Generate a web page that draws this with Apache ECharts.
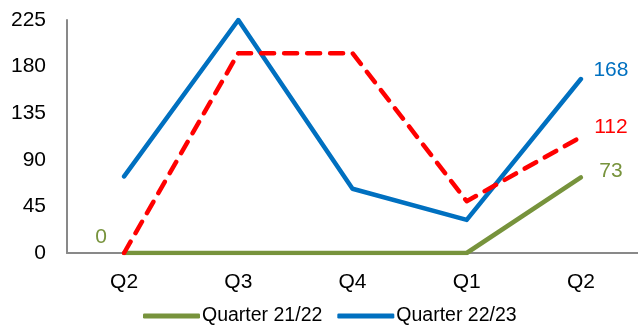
<!DOCTYPE html>
<html>
<head>
<meta charset="utf-8">
<script src="https://cdn.jsdelivr.net/npm/echarts@6/dist/echarts.min.js"></script>
<style>
html,body{margin:0;padding:0;background:#fff;}
#chart{width:638px;height:331px;}
</style>
</head>
<body>
<div id="chart"></div>
<script>
var categories = ['Q2', 'Q3', 'Q4', 'Q1', 'Q2'];
var yTicks = [0, 45, 90, 135, 180, 225];
var q2122 = [0, 0, 0, 0, 73];
var q2223 = [74, 225, 62, 32, 168];
var redLine = [0, 193, 193, 50, 112];

var font = '"Liberation Sans", Arial, sans-serif';
var green = '#77933C', blue = '#0070C0', red = '#FF0000';

// first green point gets the "0" label
var greenData = q2122.map(function (v, i) {
    if (i == 0) {
        return {
            value: v,
            label: {show: true, position: 'left', distance: 17, offset: [0, -16], color: green, fontSize: 21, fontFamily: font}
        };
    }
    return v;
});

var chart = echarts.init(document.getElementById('chart'));

var option = {
    animation: false,
    grid: {left: 67, top: 20, width: 579, bottom: 78},
    legend: {
        data: ['Quarter 21/22', 'Quarter 22/23'],
        bottom: 0,
        left: 138,
        icon: 'roundRect',
        itemWidth: 57,
        itemHeight: 5,
        itemGap: 15,
        itemStyle: {opacity: 1},
        textStyle: {fontSize: 19.5, fontFamily: font, color: '#000', padding: [0, 0, 0, -3]}
    },
    xAxis: {
        type: 'category',
        data: categories,
        boundaryGap: true,
        axisLine: {lineStyle: {color: '#898989', width: 2}},
        axisTick: {show: false},
        axisLabel: {fontSize: 21, fontFamily: font, color: '#000', margin: 19}
    },
    yAxis: {
        type: 'value',
        min: yTicks[0],
        max: yTicks[yTicks.length - 1],
        interval: 45,
        axisLine: {show: true, lineStyle: {color: '#898989', width: 2}},
        axisTick: {show: false},
        splitLine: {show: false},
        axisLabel: {fontSize: 21, fontFamily: font, color: '#000', margin: 21}
    },
    series: [
        {
            name: 'Quarter 21/22',
            type: 'line',
            data: greenData,
            symbol: 'circle',
            symbolSize: 0.1,
            itemStyle: {color: green},
            lineStyle: {color: green, width: 4.5, cap: 'round', join: 'round'},
            endLabel: {show: true, formatter: '{c}', color: green, fontSize: 21, fontFamily: font, align: 'center', distance: 22, offset: [8, -6]},
            z: 2
        },
        {
            name: 'Quarter 22/23',
            type: 'line',
            data: q2223,
            symbol: 'circle',
            symbolSize: 0.1,
            itemStyle: {color: blue},
            lineStyle: {color: blue, width: 4.5, cap: 'round', join: 'round'},
            endLabel: {show: true, formatter: '{c}', color: blue, fontSize: 21, fontFamily: font, align: 'center', distance: 22, offset: [8, -9]},
            z: 3
        },
        {
            name: 'Red',
            type: 'line',
            data: redLine,
            symbol: 'circle',
            symbolSize: 0.1,
            itemStyle: {color: red},
            lineStyle: {color: red, width: 4.5, type: [13, 10], cap: 'round', join: 'round'},
            endLabel: {show: true, formatter: '{c}', color: red, fontSize: 21, fontFamily: font, align: 'center', distance: 22, offset: [8, -10]},
            z: 4
        }
    ]
};

chart.setOption(option);
</script>
</body>
</html>
